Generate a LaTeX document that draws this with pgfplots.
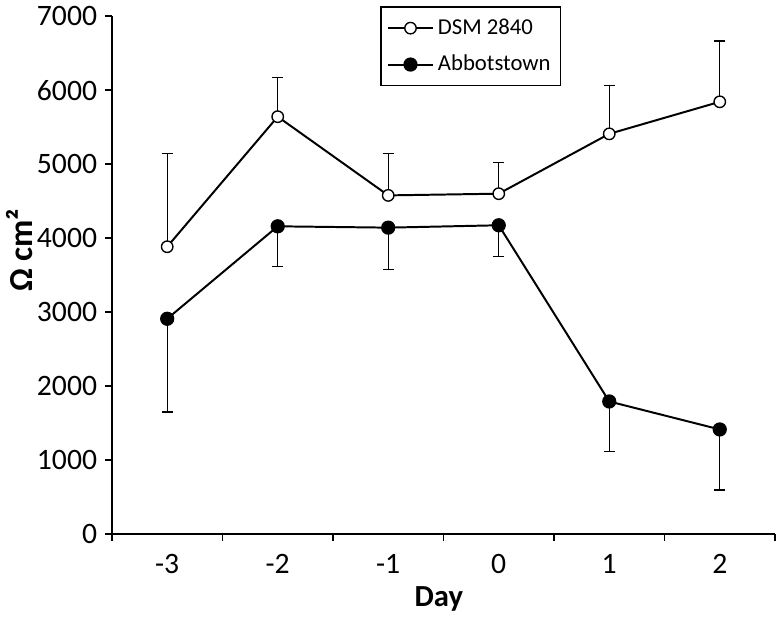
\documentclass[border=0pt]{standalone}
\usepackage{pgfplots}
\pgfplotsset{compat=1.18}
\usepackage{fontspec}
\setmainfont{Carlito}
\begin{document}
\begin{tikzpicture}
\begin{axis}[
  scale only axis,
  width=335.5pt, height=262pt,
  xmin=-3.5, xmax=2.5, ymin=0, ymax=7000,
  axis x line=bottom, axis y line=left,
  axis line style={-, line width=1pt},
  tick align=outside,
  xtick={-3,-2,-1,0,1,2},
  xticklabels={-3,-2,-1,0,1,2},
  major x tick style={draw=none},
  minor xtick={-3.5,-2.5,-1.5,-0.5,0.5,1.5,2.5},
  minor tick length=3.5pt,
  minor x tick style={line width=0.9pt, black},
  ytick={0,1000,...,7000},
  major tick length=3.5pt,
  y tick style={line width=0.9pt, black},
  /pgf/number format/assume math mode=true,
  /pgf/number format/1000 sep={},
  tick label style={font=\fontsize{15}{17}\selectfont},
  xticklabel style={yshift=-3pt},
  yticklabel style={xshift=-0.5pt},
  xlabel={Day},
  ylabel={Ω cm²},
  xlabel style={font=\fontsize{15.5}{18}\selectfont\bfseries, at={(axis description cs:0.493,-0.126)}, anchor=center},
  ylabel style={font=\fontsize{17}{19}\selectfont\bfseries, at={(axis description cs:-0.139,0.548)}, anchor=center, rotate=0},
  clip=false,
  legend style={at={(axis description cs:0.405,1.019)}, anchor=north west, draw=black, line width=0.6pt,
    font=\fontsize{11.5}{14}\selectfont, row sep=5pt, inner xsep=3pt, inner ysep=4pt},
  legend cell align=left,
  legend image code/.code={
    \draw[#1, mark=none, line width=1pt] (0cm,0cm) -- (0.8cm,0cm);
    \draw[#1, only marks] plot coordinates {(0.4cm,0cm)};},
]
\addplot[black, line width=1pt, mark=*, mark size=2.9pt, mark options={fill=white, line width=0.7pt},
  error bars/.cd, y dir=plus, y explicit, error bar style={line width=0.6pt}, error mark options={rotate=90, mark size=2.8pt, line width=0.6pt}]
  coordinates {
  (-3,3885) +- (0,1255)
  (-2,5643) +- (0,534)
  (-1,4579) +- (0,561)
  (0,4602) +- (0,427)
  (1,5411) +- (0,659)
  (2,5844) +- (0,822)
  };
\addlegendentry{DSM 2840}
\addplot[black, line width=1pt, mark=*, mark size=3.1pt, mark options={fill=black},
  error bars/.cd, y dir=minus, y explicit, error bar style={line width=0.6pt}, error mark options={rotate=90, mark size=2.8pt, line width=0.6pt}]
  coordinates {
  (-3,2911) +- (0,1259)
  (-2,4161) +- (0,543)
  (-1,4143) +- (0,569)
  (0,4175) +- (0,423)
  (1,1793) +- (0,675)
  (2,1415) +- (0,818)
  };
\addlegendentry{Abbotstown}
\end{axis}
\end{tikzpicture}
\end{document}
